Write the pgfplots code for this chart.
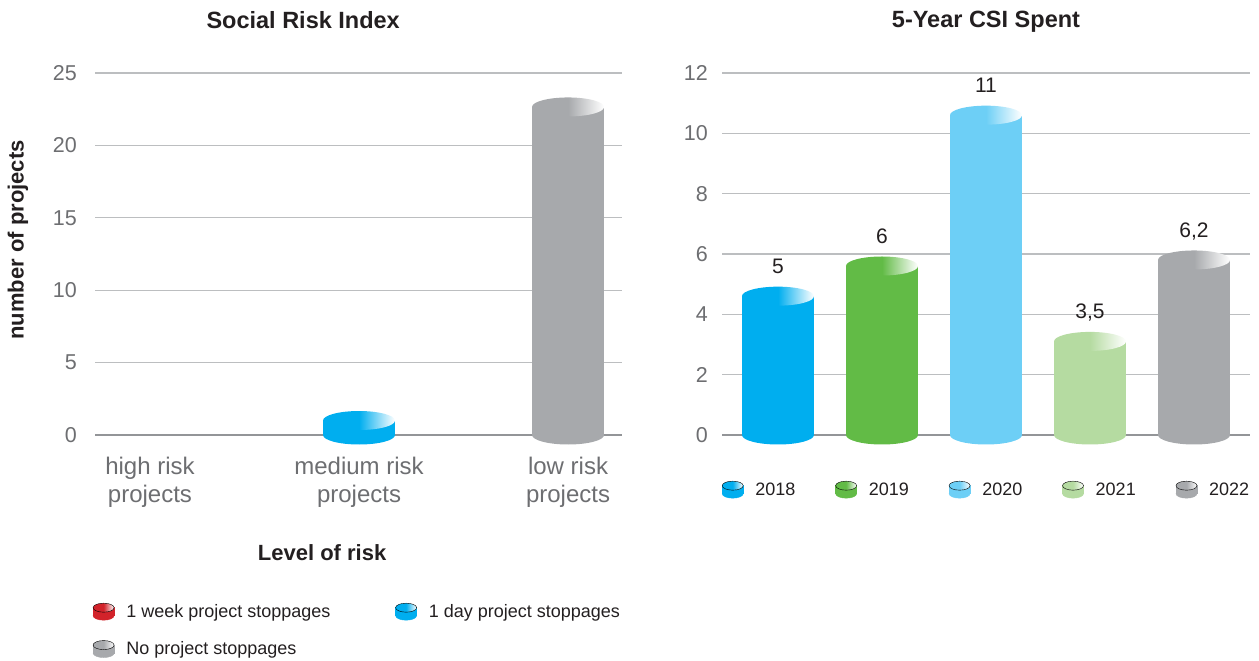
\documentclass[border=0pt]{standalone}
\usepackage{pgfplots}
\pgfplotsset{compat=1.18}
\usepackage{fontspec}
\setmainfont{Liberation Sans}
\usetikzlibrary{shapes.geometric}
\definecolor{cA}{HTML}{00AEEF}
\definecolor{cB}{HTML}{62BB46}
\definecolor{cC}{HTML}{6DCFF6}
\definecolor{cD}{HTML}{B5DBA1}
\definecolor{cE}{HTML}{A7A9AC}
\definecolor{cR}{HTML}{D2232A}
\definecolor{txt}{HTML}{231F20}
\definecolor{ticktxt}{HTML}{6D6E71}
\definecolor{gridc}{HTML}{BCBEC0}
\definecolor{zeroc}{HTML}{939598}

\newcommand\lgcyl[1]{%
  \fill[#1] (10.5bp,-4bp) ellipse [x radius=10.5bp, y radius=4.5bp];
  \fill[#1] (0bp,-4bp) rectangle (21bp,4bp);
  \shade[left color=#1, right color=white, middle color=#1] (10.5bp,4bp) ellipse [x radius=10.5bp, y radius=4.5bp];
  \path (0bp,0bp) (33bp,0bp);
}
\tikzset{cylend/.style={ellipse, draw=none, minimum width=72bp, minimum height=19bp, inner sep=0pt, outer sep=0pt, anchor=center},
  cyltop/.style={cylend, left color=#1, right color=white, middle color=#1}}
\pgfplotsset{
  cylstyle/.style={
    scale only axis, clip=false,
    axis line style={draw=none},
    tick style={draw=none}, major tick length=0pt,
    ymajorgrids, major grid style={color=gridc, line width=1.3bp},
    extra y ticks={0},
    extra y tick style={grid=major, major grid style={color=zeroc, line width=2.6bp}},
    yticklabel style={font=\fontsize{21.5bp}{24bp}\selectfont, text=ticktxt, inner sep=0pt},
    ymin=0,
    /pgf/number format/assume math mode=true,
    legend style={draw=none, fill=none, inner sep=0pt, outer sep=0pt,
      font=\fontsize{18bp}{21bp}\selectfont, text=txt, nodes={inner sep=0pt}},
    legend cell align=left,
    title style={font=\fontsize{23.5bp}{27bp}\selectfont\bfseries, text=txt, anchor=center},
  }
}
\begin{document}
\begin{tikzpicture}
\useasboundingbox (0,0) rectangle (1259bp,661bp);
% ---------------- left panel
\begin{axis}[cylstyle, at={(95bp,226bp)}, anchor=south west, width=527bp, height=362bp,
  xmin=-0.263, xmax=2.258, ymax=25, ytick={5,10,...,25},
  xtick={0,1,2},
  xticklabels={{high risk\\projects},{medium risk\\projects},{low risk\\projects}},
  xticklabel style={align=center, font=\fontsize{24bp}{28bp}\selectfont, text=ticktxt, inner sep=0pt, yshift=-22bp},
  yticklabel style={xshift=-18bp},
  ylabel={number of projects}, xlabel={Level of risk},
  every axis y label/.style={at={(-0.146,0.539)}, rotate=90, anchor=center,
    font=\fontsize{22bp}{26bp}\selectfont\bfseries, text=txt},
  every axis x label/.style={at={(0.431,-0.326)}, anchor=center,
    font=\fontsize{22bp}{26bp}\selectfont\bfseries, text=txt},
  title={Social Risk Index}, title style={at={(0.395,1.129)}, anchor=center},
  legend columns=2,
  legend style={at={(-0.004,-0.464)}, anchor=north west, row sep=20bp,
    /tikz/every even column/.append style={column sep=65bp}},
]
% medium risk: 1 day project stoppages
\addplot[draw=none, forget plot, nodes near coords={}, every node near coord/.append style={cylend, fill=cA}] coordinates {(1,0)};
\addplot[cA, line width=72bp, forget plot] coordinates {(1,0) (1,1)};
\addplot[draw=none, forget plot, nodes near coords={}, every node near coord/.append style={cyltop=cA}] coordinates {(1,1)};
% low risk: no project stoppages
\addplot[draw=none, forget plot, nodes near coords={}, every node near coord/.append style={cylend, fill=cE}] coordinates {(2,0)};
\addplot[cE, line width=72bp, shorten >=5bp, forget plot] coordinates {(2,0) (2,23)};
\addplot[draw=none, forget plot, nodes near coords={}, every node near coord/.append style={cyltop=cE, yshift=-5bp}] coordinates {(2,23)};
\addlegendimage{legend image code/.code={\lgcyl{cR}}}
\addlegendentry{1 week project stoppages}
\addlegendimage{legend image code/.code={\lgcyl{cA}}}
\addlegendentry{1 day project stoppages}
\addlegendimage{legend image code/.code={\lgcyl{cE}}}
\addlegendentry{No project stoppages}
\end{axis}
% ---------------- right panel
\begin{axis}[cylstyle, at={(722bp,226bp)}, anchor=south west, width=528bp, height=362bp,
  xmin=-0.538, xmax=4.538, ymax=12, ytick={2,4,...,12}, xtick=\empty,
  yticklabel style={xshift=-14bp},
  title={5-Year CSI Spent}, title style={at={(0.5,1.124)}, anchor=center},
  legend columns=5,
  legend style={at={(0,-0.151)}, anchor=west,
    /tikz/every even column/.append style={column sep=40bp}},
]
% 2018
\addplot[draw=none, forget plot, nodes near coords={}, every node near coord/.append style={cylend, fill=cA}] coordinates {(0,0)};
\addplot[cA, line width=72bp, shorten >=12bp, forget plot] coordinates {(0,0) (0,5)};
\addplot[draw=none, forget plot, nodes near coords={}, every node near coord/.append style={cyltop=cA, yshift=-12bp}] coordinates {(0,5)};
% 2019
\addplot[draw=none, forget plot, nodes near coords={}, every node near coord/.append style={cylend, fill=cB}] coordinates {(1,0)};
\addplot[cB, line width=72bp, shorten >=12bp, forget plot] coordinates {(1,0) (1,6)};
\addplot[draw=none, forget plot, nodes near coords={}, every node near coord/.append style={cyltop=cB, yshift=-12bp}] coordinates {(1,6)};
% 2020
\addplot[draw=none, forget plot, nodes near coords={}, every node near coord/.append style={cylend, fill=cC}] coordinates {(2,0)};
\addplot[cC, line width=72bp, shorten >=12bp, forget plot] coordinates {(2,0) (2,11)};
\addplot[draw=none, forget plot, nodes near coords={}, every node near coord/.append style={cyltop=cC, yshift=-12bp}] coordinates {(2,11)};
% 2021
\addplot[draw=none, forget plot, nodes near coords={}, every node near coord/.append style={cylend, fill=cD}] coordinates {(3,0)};
\addplot[cD, line width=72bp, shorten >=12bp, forget plot] coordinates {(3,0) (3,3.5)};
\addplot[draw=none, forget plot, nodes near coords={}, every node near coord/.append style={cyltop=cD, yshift=-12bp}] coordinates {(3,3.5)};
% 2022
\addplot[draw=none, forget plot, nodes near coords={}, every node near coord/.append style={cylend, fill=cE}] coordinates {(4,0)};
\addplot[cE, line width=72bp, shorten >=12bp, forget plot] coordinates {(4,0) (4,6.2)};
\addplot[draw=none, forget plot, nodes near coords={}, every node near coord/.append style={cyltop=cE, yshift=-12bp}] coordinates {(4,6.2)};
% value labels
\addplot[draw=none, forget plot, point meta=explicit symbolic, nodes near coords,
  every node near coord/.append style={anchor=base, yshift=10.5bp, inner sep=0pt,
    font=\fontsize{21bp}{24bp}\selectfont, text=txt}]
  coordinates {(0,5) [5] (1,6) [6] (2,11) [11] (3,3.5) [{3,5}] (4,6.2) [{6,2}]};
\addlegendimage{legend image code/.code={\lgcyl{cA}}}
\addlegendentry{2018}
\addlegendimage{legend image code/.code={\lgcyl{cB}}}
\addlegendentry{2019}
\addlegendimage{legend image code/.code={\lgcyl{cC}}}
\addlegendentry{2020}
\addlegendimage{legend image code/.code={\lgcyl{cD}}}
\addlegendentry{2021}
\addlegendimage{legend image code/.code={\lgcyl{cE}}}
\addlegendentry{2022}
\end{axis}
\end{tikzpicture}
\end{document}
